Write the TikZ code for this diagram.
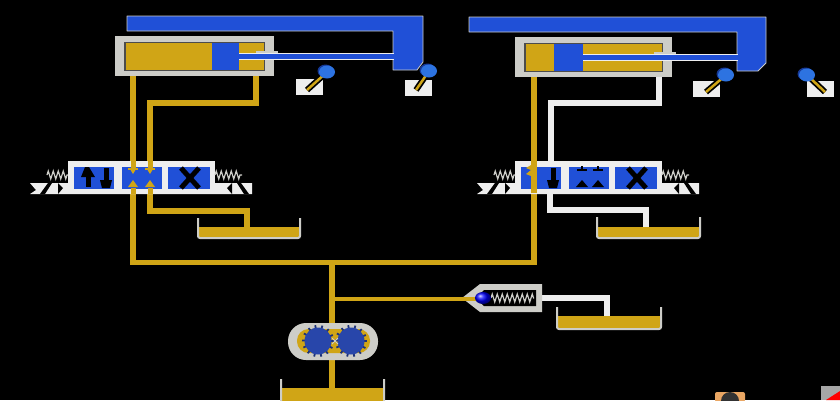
\documentclass[tikz,border=0pt]{standalone}
\usetikzlibrary{decorations.pathmorphing}

\definecolor{oilyellow}{RGB}{208,165,22}
\definecolor{actblue}{RGB}{32,80,215}
\definecolor{rimgray}{RGB}{205,205,200}
\definecolor{pipewhite}{RGB}{238,238,238}
\definecolor{toothblue}{RGB}{40,70,170}
\definecolor{ballblue}{RGB}{45,115,225}

\tikzset{
  oilpipe/.style={draw=oilyellow,line width=6.5pt,line join=miter},
  drainpipe/.style={draw=pipewhite,line width=6.5pt,line join=miter},
  frameblue/.style={fill=actblue,draw=rimgray,line width=0.8pt,line join=round},
  springline/.style={draw=rimgray,line width=1.2pt,decorate,decoration={zigzag,segment length=5pt,amplitude=4pt}},
  oilmark/.style={draw=oilyellow,line width=2pt}
}

% cylinder: x left, x right, y top, piston left, piston right, rod end
\newcommand{\cylinderbody}[6]{
  \fill[rimgray] (#1,#3) rectangle (#2,#3+40);
  \fill[black!70] (#1+9,#3+6) rectangle (#2-9,#3+35);
  \fill[oilyellow] (#1+11,#3+7) rectangle (#2-10,#3+34);
  \fill[actblue] (#4,#3+7) rectangle (#5,#3+34);
  \fill[rimgray] (#2-18,#3+15) rectangle (#2+4,#3+18);
  \fill[pipewhite] (#5,#3+17) rectangle (#6,#3+24);
  \fill[actblue] (#5,#3+18) rectangle (#6,#3+23);
}

% limit switch: box corner, ball centre, lever foot
\newcommand{\limitswitch}[6]{
  \fill[pipewhite] (#1,#2) rectangle (#1+27,#2+16);
  \draw[black,line width=6pt] (#5,#6)--(#3,#4);
  \draw[oilyellow,line width=2.5pt] (#5,#6)--(#3,#4);
  \fill[actblue!70!black] (#3-1.5,#4-1) ellipse (8pt and 6.5pt);
  \fill[ballblue] (#3,#4) ellipse (8pt and 6.5pt);
}

% tank: x left, x right, y top, y oil, y bottom
\newcommand{\tankshape}[5]{
  \fill[oilyellow] (#1+1,#4)--(#2-1,#4)--(#2-1,#5-1)--(#1+1,#5-1)--cycle;
  \draw[rimgray,line width=2pt,rounded corners=2pt] (#1,#3)--(#1,#5)--(#2,#5)--(#2,#3);
}

% valve block, drawn at x offset
\newcommand{\valveblock}[1]{
  \begin{scope}[xshift=#1pt]
    \fill[pipewhite] (30,183)--(252,183)--(252,194)--(30,194)--(36,190)--cycle;
    \fill[pipewhite] (68,161) rectangle (215,194);
    \fill[actblue] (74,167) rectangle (114,189);
    \fill[actblue] (122,167) rectangle (162,189);
    \fill[actblue] (168,167) rectangle (210,189);
    \draw[springline] (47,175)--(68,175);
    \draw[springline] (215,175)--(242,175);
    % feet of the solenoids
    \fill[black] (40,194)--(48,183)--(52,183)--(45,194)--cycle;
    \fill[black] (58,183)--(63,188)--(58,194)--cycle;
    \fill[black] (232,183)--(227,188)--(232,194)--cycle;
    \fill[black] (237,183)--(241,183)--(249,194)--(244,194)--cycle;
    % cell marks
    \draw[black,line width=5pt] (181,168)--(199,188);
    \draw[black,line width=5pt] (199,168)--(181,188);
    \draw[black,line width=5pt] (106,168)--(106,186);
    \fill[black] (100,180)--(112,180)--(110,188)--(102,188)--cycle;
  \end{scope}
}

\begin{document}
\begin{tikzpicture}[x=1pt,y=-1pt]
\useasboundingbox (0,0) rectangle (840,400);
\clip (0,0) rectangle (840,400);
\fill[black] (0,0) rectangle (840,400);

%% moving frames
\draw[frameblue] (127,16)--(423,16)--(423,62)--(417,70)--(393,70)--(393,31)--(127,31)--cycle;
\draw[frameblue] (469,17)--(766,17)--(766,63)--(758,71)--(737,71)--(737,32)--(469,32)--cycle;

%% pipes
\coordinate (teeleft) at (133,262);
\coordinate (teeright) at (534,262);
\coordinate (teepump) at (332,262);
\coordinate (teerelief) at (332,299);

\draw[oilpipe,line width=5pt] (teeleft)--(teeright);
\draw[oilpipe] (133,74)--(133,264.5);
\draw[oilpipe] (534,74)--(534,264.5);
\draw[oilpipe] (256,74)--(256,103)--(150,103)--(150,164);
\draw[oilpipe] (150,192)--(150,211)--(247,211)--(247,229);
\draw[drainpipe] (659,74)--(659,103)--(551,103)--(551,164);
\draw[drainpipe] (550,191)--(550,210)--(646,210)--(646,228);
\draw[oilpipe] (teepump)--(332,326);
\draw[oilpipe] (332,358)--(332,390);
\draw[oilpipe,line width=4.5pt] (teerelief)--(474,299);
\draw[drainpipe,line width=5.5pt] (540,298)--(607,298)--(607,317);

%% cylinders
\cylinderbody{115}{274}{36}{212}{239}{394}
\cylinderbody{515}{672}{37}{554}{583}{738}

%% limit switches
\limitswitch{296}{79}{327}{72}{307}{90}
\limitswitch{405}{80}{429}{71}{416}{90}
\limitswitch{693}{81}{726}{75}{706}{92}
\limitswitch{807}{81}{807}{75}{825}{92}

%% valves
\valveblock{0}
\valveblock{447}

\draw[black,line width=5pt] (88,170)--(88,187);
\fill[black] (81,177)--(95,177)--(89,167)--(85,167)--cycle;
\foreach \xpos in {133,150}{
  \draw[oilmark] (\xpos-5,169)--(\xpos+5,169);
  \fill[oilyellow] (\xpos-3,169)--(\xpos+3,169)--(\xpos,174)--cycle;
  \fill[oilyellow] (\xpos-5,187)--(\xpos+5,187)--(\xpos,180)--cycle;
}
\fill[oilyellow] (131,161) rectangle (136,168);
\fill[oilyellow] (148,161) rectangle (153,168);
\fill[oilyellow] (131,188) rectangle (136,194);
\fill[oilyellow] (148,188) rectangle (153,194);

\fill[oilyellow] (531,161) rectangle (537,193);
\fill[oilyellow] (531,176)--(526,174)--(531,170)--(526,168)--(531,165)--cycle;
\foreach \xpos in {582,598}{
  \draw[black,line width=2pt] (\xpos-5,170)--(\xpos+5,170);
  \draw[black,line width=2pt] (\xpos,166)--(\xpos,170);
  \fill[black] (\xpos-6,187)--(\xpos+6,187)--(\xpos,180)--cycle;
}

%% tanks
\tankshape{198}{300}{218}{227}{238}
\tankshape{597}{700}{217}{227}{238}
\tankshape{557}{661}{307}{316}{329}
\tankshape{281}{384}{379}{388}{406}

%% relief valve
\fill[rimgray] (462,298)--(480,284)--(542,284)--(542,312)--(480,312)--cycle;
\fill[black] (476,298)--(484,290)--(536,290)--(536,306)--(484,306)--cycle;
\fill[oilyellow] (462,296.5)--(476,296.5)--(476,300.5)--(462,300.5)--cycle;
\draw[springline] (491,298)--(534,298);
\shade[ball color=blue] (483,298) ellipse (8pt and 6pt);

%% gear pump
\fill[rimgray,rounded corners=18pt] (288,323) rectangle (378,360);
\fill[oilyellow,rounded corners=11.5pt] (297,329) rectangle (370,353);
\foreach \gearx in {318,351}{
  \foreach \angle in {0,26,...,338}{
    \draw[toothblue!70!black,line width=1.8pt] (\gearx,341)--++(\angle:16);
  }
  \fill[toothblue] (\gearx,341) circle (13.5pt);
}
\draw[rimgray,line width=0.8pt] (332,338)--(338,344);
\draw[rimgray,line width=0.8pt] (338,338)--(332,344);

%% cut off icons, lower right
\fill[brown!50!orange!70!white,rounded corners=2pt] (715,392) rectangle (745,402);
\fill[black!80] (730,401) circle (9pt);
\fill[gray!70] (821,386) rectangle (840,400);
\fill[red] (826,400)--(840,391)--(840,400)--cycle;
\end{tikzpicture}
\end{document}
